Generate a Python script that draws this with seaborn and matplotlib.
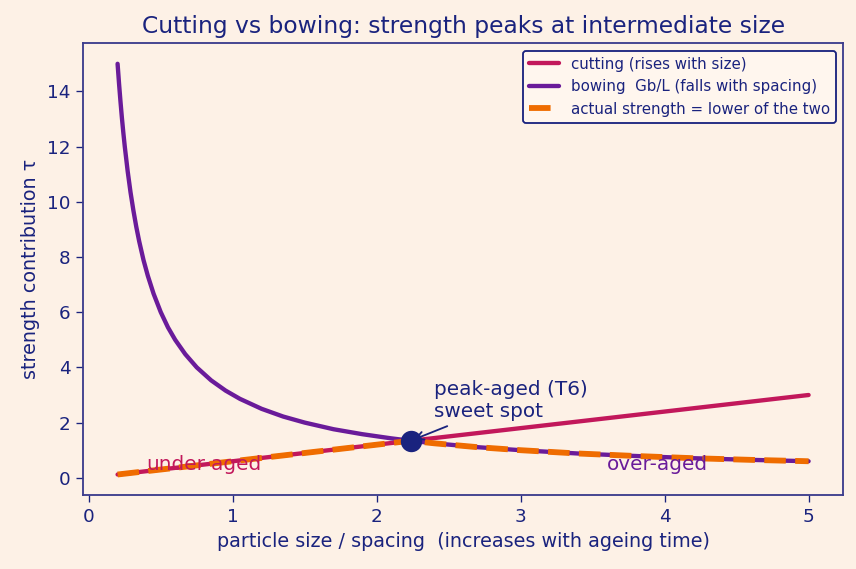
import numpy as np
import pandas as pd
import matplotlib
matplotlib.use("Agg")
import matplotlib.pyplot as plt
import seaborn as sns

# ── Data ─────────────────────────────────────────────────────────────────────
size = [0.20, 0.21, 0.22, 0.23, 0.24, 0.25, 0.27, 0.29, 0.31, 0.33, 0.35,
        0.38, 0.41, 0.45, 0.50, 0.55, 0.60, 0.67, 0.75, 0.85, 0.95, 1.05,
        1.20, 1.35, 1.50, 1.70, 1.90, 2.10, 2.236, 2.40, 2.70, 3.00, 3.40,
        3.80, 4.20, 4.60, 5.00]
cutting = [0.120, 0.126, 0.132, 0.138, 0.144, 0.150, 0.162, 0.174, 0.186,
           0.198, 0.210, 0.228, 0.246, 0.270, 0.300, 0.330, 0.360, 0.402,
           0.450, 0.510, 0.570, 0.630, 0.720, 0.810, 0.900, 1.020, 1.140,
           1.260, 1.342, 1.440, 1.620, 1.800, 2.040, 2.280, 2.520, 2.760,
           3.000]
bowing = [15.00, 14.29, 13.64, 13.04, 12.50, 12.00, 11.11, 10.34, 9.68,
          9.09, 8.57, 7.89, 7.32, 6.67, 6.00, 5.45, 5.00, 4.48, 4.00, 3.53,
          3.16, 2.86, 2.50, 2.22, 2.00, 1.76, 1.58, 1.43, 1.342, 1.25, 1.11,
          1.00, 0.88, 0.79, 0.71, 0.65, 0.60]
actual = [min(c, b) for c, b in zip(cutting, bowing)]

PEAK_X, PEAK_Y = 2.236, 1.342

NAVY    = "#1a237e"
CRIMSON = "#c2185b"
PURPLE  = "#6a1b9a"
ORANGE  = "#ef6c00"
BG      = "#fdf1e6"

df = pd.DataFrame({"size": size, "cutting": cutting,
                   "bowing": bowing, "actual": actual})

# ── Figure ───────────────────────────────────────────────────────────────────
sns.set_style("white")
plt.rcParams["font.family"] = ["DejaVu Sans"]

fig, ax = plt.subplots(figsize=(856 / 120, 569 / 120), dpi=120)
fig.patch.set_facecolor(BG)
ax.set_facecolor(BG)

sns.lineplot(data=df, x="size", y="cutting", ax=ax, color=CRIMSON, lw=2.6,
             label="cutting (rises with size)")
sns.lineplot(data=df, x="size", y="bowing", ax=ax, color=PURPLE, lw=2.6,
             label="bowing  Gb/L (falls with spacing)")
sns.lineplot(data=df, x="size", y="actual", ax=ax, color=ORANGE, lw=3.5,
             linestyle="--", label="actual strength = lower of the two")

ax.scatter([PEAK_X], [PEAK_Y], s=140, color=NAVY, zorder=5)
ax.annotate("peak-aged (T6)\nsweet spot", xy=(PEAK_X, PEAK_Y),
            xytext=(2.4, 2.2), fontsize=12, color=NAVY,
            arrowprops=dict(arrowstyle="->", color=NAVY, lw=1.1))
ax.text(0.4, 0.3, "under-aged", fontsize=12, color=CRIMSON)
ax.text(3.6, 0.3, "over-aged", fontsize=12, color=PURPLE)

ax.set_title("Cutting vs bowing: strength peaks at intermediate size",
             fontsize=14, color=NAVY)
ax.set_xlabel("particle size / spacing  (increases with ageing time)",
              fontsize=11.5, color=NAVY)
ax.set_ylabel("strength contribution τ", fontsize=11.5, color=NAVY)
ax.tick_params(colors=NAVY, labelsize=11, length=4, bottom=True, left=True)
for sp in ax.spines.values():
    sp.set_color("#3c3c8c")
    sp.set_linewidth(1.1)

leg = ax.legend(loc="upper right", fontsize=9, frameon=True,
                facecolor="#fff6ee", edgecolor=NAVY, framealpha=1)
leg.get_frame().set_linewidth(1.1)
for t in leg.get_texts():
    t.set_color(NAVY)

fig.subplots_adjust(left=0.097, right=0.985, top=0.924, bottom=0.130)
plt.savefig("out.png", dpi=120, facecolor=BG)
plt.close()
